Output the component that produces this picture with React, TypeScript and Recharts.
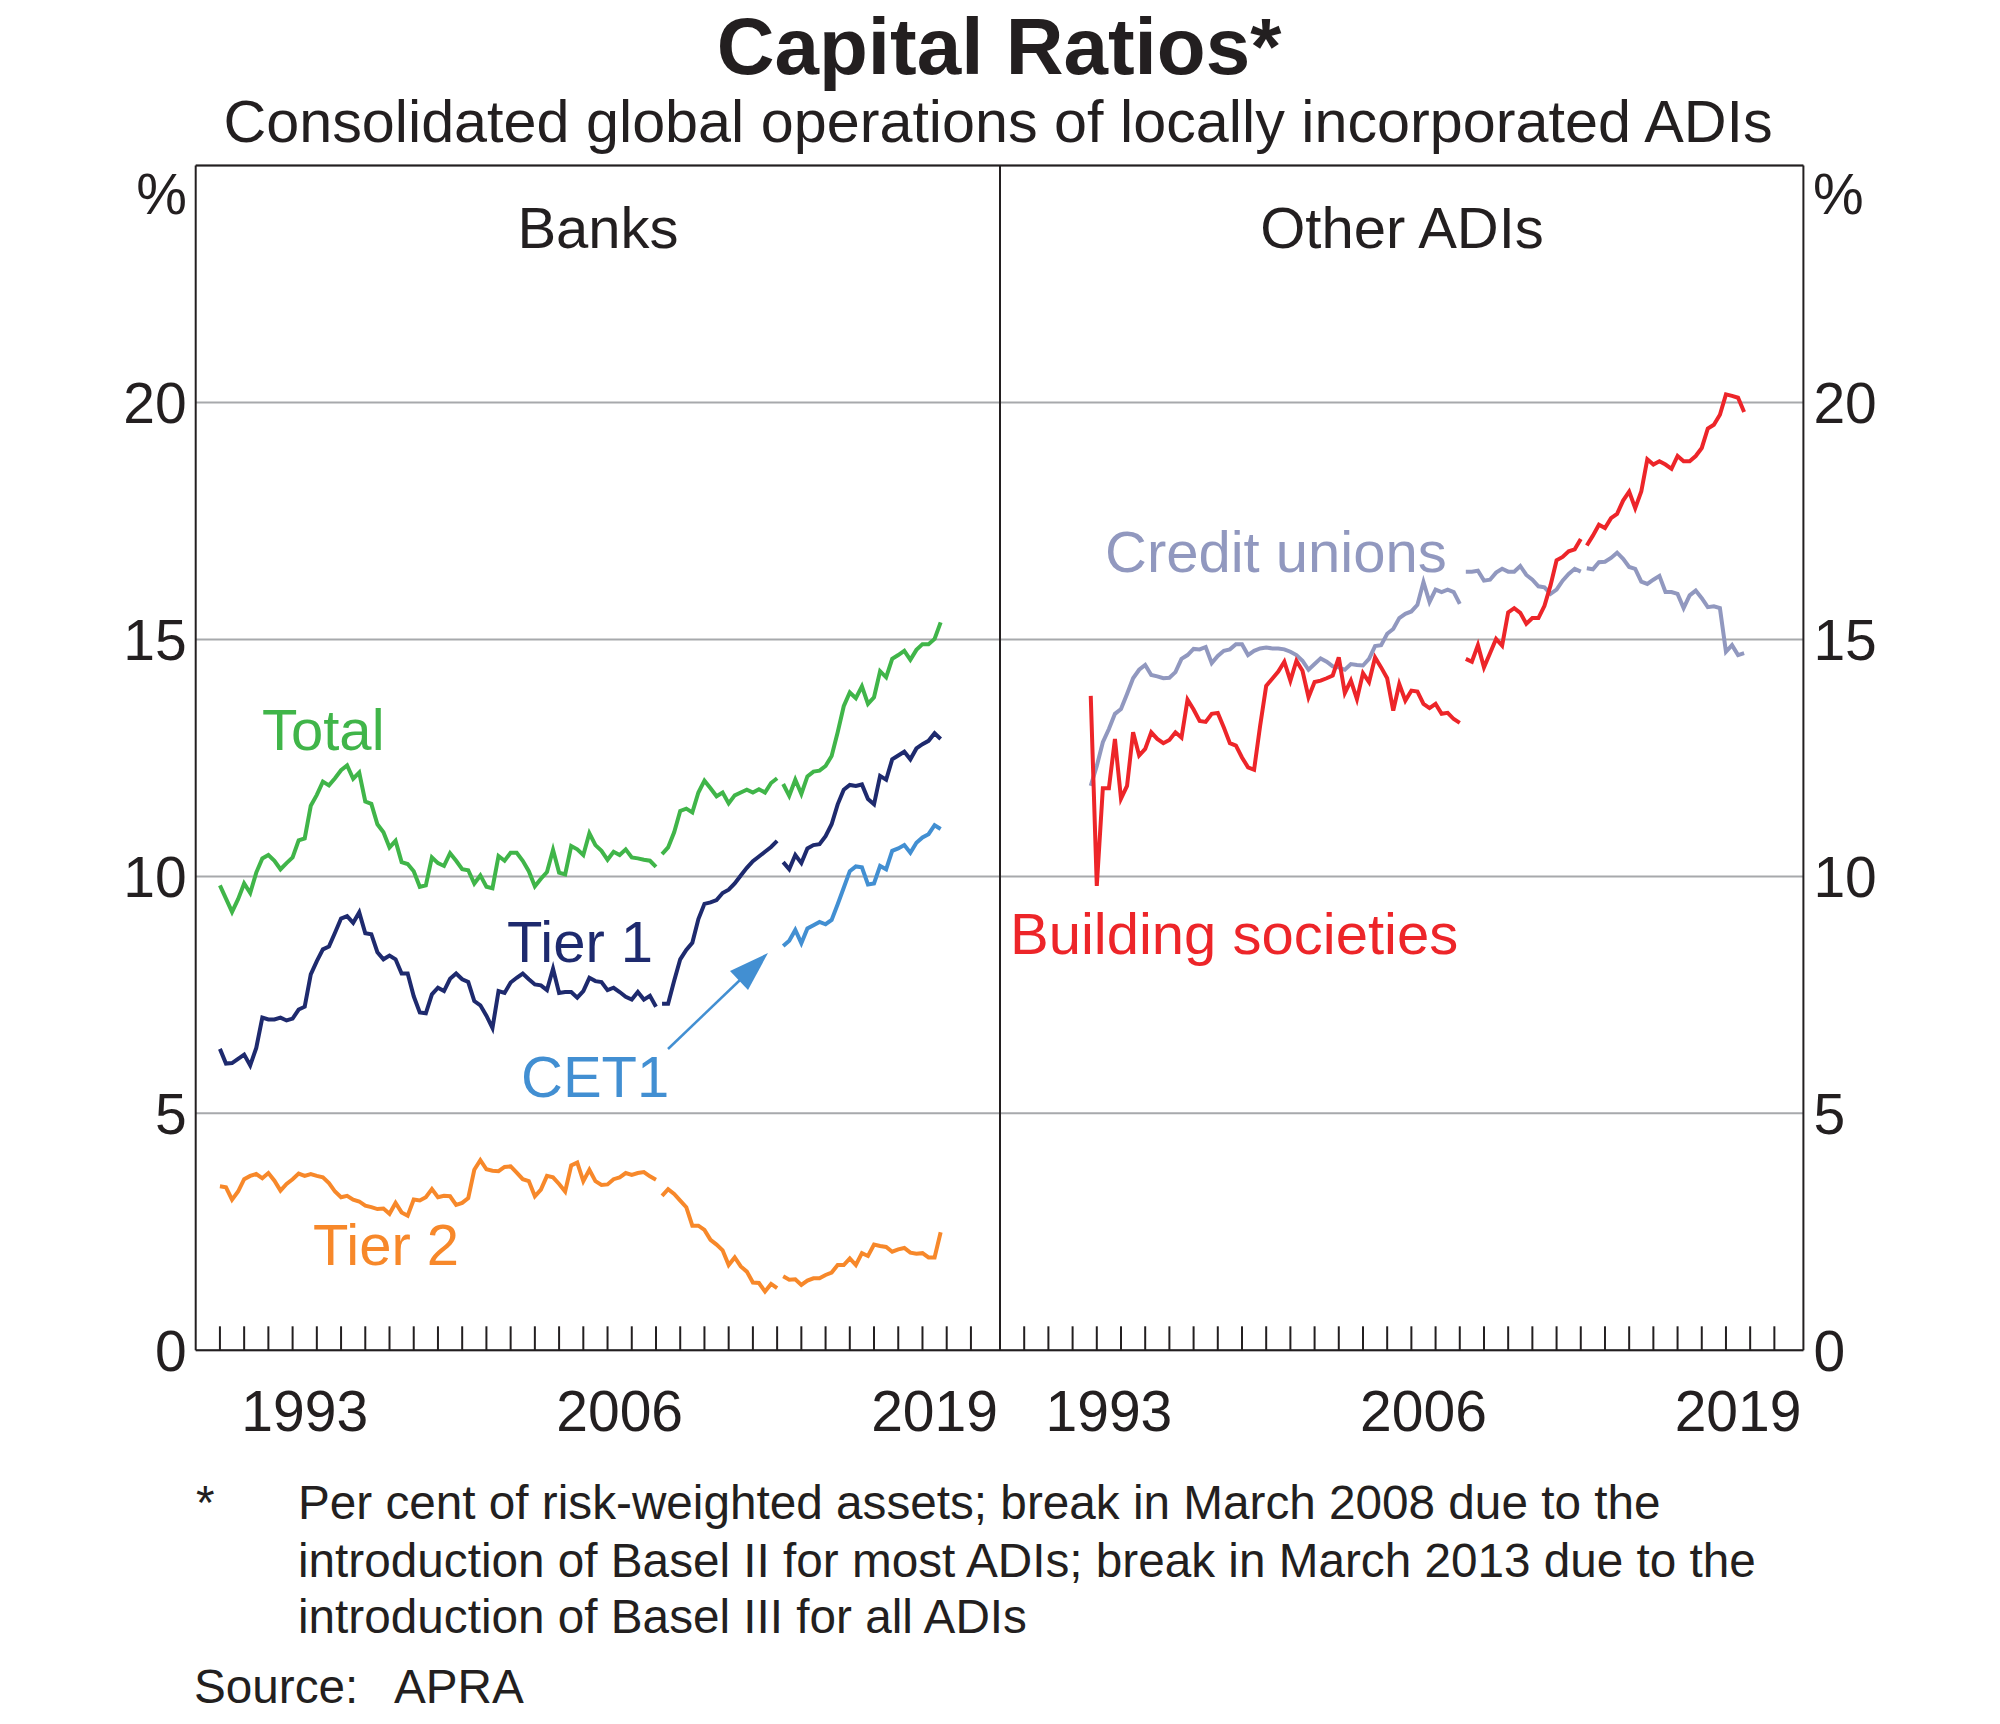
import React from "react";
import { LineChart, Line, XAxis, YAxis, CartesianGrid, ReferenceLine } from "recharts";

// Quarterly observations, plotted at quarter end: first is Dec 1989 (1990.0), last is Sep 2019.
const FIRST_QUARTER = 1990.0;
const N_QUARTERS = 120;
const BASEL2_START = 73; // Mar 2008
const BASEL3_START = 93; // Mar 2013
const OTHER_ADI_START = 11; // Sep 1992

// Banks
const TOTAL_PRE2008 = [
  9.81, 9.53, 9.25, 9.52, 9.85, 9.65, 10.08, 10.38, 10.45, 10.33,
  10.15, 10.28, 10.4, 10.76, 10.8, 11.49, 11.72, 12.0, 11.92, 12.07,
  12.24, 12.34, 12.06, 12.19, 11.58, 11.53, 11.1, 10.93, 10.61, 10.75,
  10.3, 10.26, 10.11, 9.78, 9.81, 10.4, 10.28, 10.22, 10.49, 10.33,
  10.15, 10.13, 9.85, 10.02, 9.78, 9.75, 10.43, 10.33, 10.5, 10.5,
  10.33, 10.11, 9.79, 9.95, 10.09, 10.56, 10.08, 10.04, 10.64, 10.57,
  10.45, 10.91, 10.66, 10.54, 10.35, 10.52, 10.45, 10.57, 10.4, 10.38,
  10.35, 10.33, 10.2,
];
const TOTAL_BASEL2 = [
  10.47, 10.61, 10.93, 11.38, 11.43, 11.35, 11.77, 12.02, 11.86, 11.69,
  11.77, 11.54, 11.71, 11.77, 11.83, 11.77, 11.84, 11.77, 11.97, 12.07,
];
const TOTAL_BASEL3 = [
  11.95, 11.7, 12.04, 11.74, 12.11, 12.21, 12.23, 12.33, 12.54, 13.04,
  13.59, 13.88, 13.76, 14.01, 13.64, 13.78, 14.33, 14.2, 14.59, 14.67,
  14.76, 14.57, 14.78, 14.9, 14.9, 15.01, 15.36,
];

const TIER1_PRE2008 = [
  6.36, 6.05, 6.06, 6.15, 6.24, 6.01, 6.38, 7.02, 6.98, 6.98,
  7.02, 6.96, 7.0, 7.19, 7.25, 7.93, 8.21, 8.46, 8.52, 8.81,
  9.11, 9.16, 9.02, 9.24, 8.8, 8.78, 8.4, 8.25, 8.33, 8.25,
  7.95, 7.95, 7.47, 7.13, 7.11, 7.51, 7.65, 7.58, 7.84, 7.95,
  7.83, 7.77, 7.37, 7.28, 7.06, 6.8, 7.58, 7.54, 7.76, 7.86,
  7.95, 7.83, 7.72, 7.7, 7.6, 8.05, 7.54, 7.56, 7.56, 7.44,
  7.58, 7.86, 7.79, 7.77, 7.6, 7.65, 7.56, 7.46, 7.4, 7.56,
  7.4, 7.48, 7.25,
];
const TIER1_BASEL2 = [
  7.31, 7.31, 7.8, 8.25, 8.45, 8.6, 9.1, 9.42, 9.45, 9.5,
  9.65, 9.72, 9.85, 10.02, 10.18, 10.32, 10.42, 10.52, 10.62, 10.75,
];
const TIER1_BASEL3 = [
  10.3, 10.15, 10.45, 10.28, 10.59, 10.66, 10.68, 10.85, 11.1, 11.52,
  11.83, 11.93, 11.91, 11.94, 11.63, 11.52, 12.12, 12.04, 12.47, 12.55,
  12.63, 12.47, 12.7, 12.79, 12.86, 13.02, 12.9,
];

const CET1_BASEL3 = [
  8.53, 8.64, 8.87, 8.59, 8.9, 8.97, 9.04, 8.99, 9.08, 9.41,
  9.76, 10.11, 10.21, 10.19, 9.83, 9.85, 10.22, 10.15, 10.54, 10.59,
  10.66, 10.5, 10.71, 10.82, 10.89, 11.08, 11.0,
];

const TIER2_PRE2008 = [
  3.46, 3.44, 3.18, 3.35, 3.61, 3.68, 3.72, 3.63, 3.74, 3.58,
  3.37, 3.51, 3.61, 3.73, 3.68, 3.72, 3.68, 3.65, 3.53, 3.35,
  3.23, 3.26, 3.18, 3.14, 3.05, 3.02, 2.98, 2.99, 2.88, 3.11,
  2.91, 2.84, 3.18, 3.16, 3.23, 3.4, 3.23, 3.26, 3.25, 3.07,
  3.11, 3.21, 3.81, 4.01, 3.82, 3.79, 3.78, 3.87, 3.88, 3.75,
  3.61, 3.57, 3.25, 3.39, 3.68, 3.65, 3.51, 3.35, 3.9, 3.96,
  3.57, 3.81, 3.57, 3.49, 3.5, 3.61, 3.65, 3.74, 3.7, 3.74,
  3.76, 3.67, 3.6,
];
const TIER2_BASEL2 = [
  3.26, 3.4, 3.3, 3.16, 3.02, 2.63, 2.63, 2.54, 2.33, 2.23,
  2.11, 1.8, 1.96, 1.77, 1.66, 1.43, 1.42, 1.24, 1.4, 1.31,
];
const TIER2_BASEL3 = [
  1.56, 1.49, 1.5, 1.38, 1.47, 1.52, 1.52, 1.59, 1.64, 1.8,
  1.8, 1.94, 1.8, 2.05, 1.99, 2.23, 2.2, 2.18, 2.08, 2.13,
  2.16, 2.06, 2.04, 2.05, 1.96, 1.96, 2.49,
];

// Other ADIs
const CREDIT_UNIONS_PRE2008 = [
  11.91, 12.33, 12.83, 13.11, 13.43, 13.53, 13.85, 14.18, 14.36, 14.46,
  14.25, 14.22, 14.18, 14.19, 14.31, 14.59, 14.67, 14.8, 14.79, 14.84,
  14.5, 14.65, 14.76, 14.79, 14.9, 14.9, 14.67, 14.76, 14.81, 14.83,
  14.81, 14.81, 14.79, 14.74, 14.67, 14.55, 14.36, 14.48, 14.6, 14.53,
  14.43, 14.41, 14.36, 14.48, 14.46, 14.45, 14.59, 14.86, 14.88, 15.12,
  15.22, 15.45, 15.54, 15.59, 15.73, 16.21, 15.79, 16.05, 16.0, 16.05,
  16.0, 15.75,
];
const CREDIT_UNIONS_BASEL2 = [
  16.43, 16.43, 16.45, 16.24, 16.26, 16.41, 16.49, 16.43, 16.43, 16.55,
  16.36, 16.26, 16.12, 16.1, 15.96, 16.05, 16.24, 16.38, 16.49, 16.43,
];
const CREDIT_UNIONS_BASEL3 = [
  16.5, 16.48, 16.63, 16.64, 16.72, 16.83, 16.7, 16.53, 16.49, 16.22,
  16.17, 16.26, 16.34, 16.0, 16.0, 15.96, 15.66, 15.93, 16.03, 15.87,
  15.68, 15.7, 15.66, 14.74, 14.88, 14.67, 14.71,
];

const BUILDING_SOC_PRE2008 = [
  13.81, 9.8, 11.86, 11.86, 12.9, 11.64, 11.91, 13.04, 12.55, 12.69,
  13.04, 12.9, 12.81, 12.88, 13.04, 12.93, 13.73, 13.52, 13.28, 13.26,
  13.43, 13.45, 13.14, 12.81, 12.76, 12.51, 12.3, 12.25, 13.18, 14.02,
  14.17, 14.32, 14.53, 14.13, 14.55, 14.34, 13.78, 14.1, 14.13, 14.18,
  14.24, 14.62, 13.87, 14.13, 13.74, 14.29, 14.1, 14.62, 14.41, 14.18,
  13.5, 14.06, 13.71, 13.92, 13.9, 13.64, 13.55, 13.64, 13.43, 13.45,
  13.32, 13.24,
];
const BUILDING_SOC_BASEL2 = [
  14.59, 14.53, 14.88, 14.41, 14.71, 15.01, 14.87, 15.57, 15.66, 15.56,
  15.33, 15.45, 15.45, 15.71, 16.14, 16.67, 16.74, 16.86, 16.9, 17.12,
];
const BUILDING_SOC_BASEL3 = [
  16.98, 17.19, 17.42, 17.35, 17.56, 17.65, 17.93, 18.12, 17.77, 18.12,
  18.8, 18.69, 18.76, 18.69, 18.6, 18.87, 18.76, 18.76, 18.87, 19.04,
  19.45, 19.53, 19.74, 20.17, 20.14, 20.1, 19.8,
];

const Y_TICKS = [0, 5, 10, 15, 20];
const YEAR_TICKS = Array.from({ length: 32 }, (_, k) => 1990 + k);
const YEAR_LABELS = [1993, 2006, 2019];
const X_DOMAIN: [number, number] = [1989, 2022.2];

const FONT = '"Liberation Sans", Arial, Helvetica, sans-serif';
const INK = "#231f20";
const GRID = "#a7a9ac";
const GREEN = "#40b549";
const NAVY = "#1e2a6e";
const SKY = "#428fd2";
const ORANGE = "#f7882a";
const LAVENDER = "#9198bf";
const RED = "#ed2529";

// layout (px)
const W = 2000;
const H = 1724;
const PLOT_TOP = 165.5;
const PLOT_BOTTOM = 1350.3;
const LEFT_EDGE = 195.7;
const DIVIDER = 1000;
const RIGHT_EDGE = 1803.4;
const TICK_FONT = 57;
const NOTE_FONT = 47.7;

function seg(values: number[], start: number, i: number) {
  const k = i - start;
  return k >= 0 && k < values.length ? values[k] : null;
}

const rows = Array.from({ length: N_QUARTERS }, (_, i) => ({
  t: FIRST_QUARTER + i / 4,
  totalA: seg(TOTAL_PRE2008, 0, i),
  totalB: seg(TOTAL_BASEL2, BASEL2_START, i),
  totalC: seg(TOTAL_BASEL3, BASEL3_START, i),
  tier1A: seg(TIER1_PRE2008, 0, i),
  tier1B: seg(TIER1_BASEL2, BASEL2_START, i),
  tier1C: seg(TIER1_BASEL3, BASEL3_START, i),
  cet1C: seg(CET1_BASEL3, BASEL3_START, i),
  tier2A: seg(TIER2_PRE2008, 0, i),
  tier2B: seg(TIER2_BASEL2, BASEL2_START, i),
  tier2C: seg(TIER2_BASEL3, BASEL3_START, i),
  cuA: seg(CREDIT_UNIONS_PRE2008, OTHER_ADI_START, i),
  cuB: seg(CREDIT_UNIONS_BASEL2, BASEL2_START, i),
  cuC: seg(CREDIT_UNIONS_BASEL3, BASEL3_START, i),
  bsA: seg(BUILDING_SOC_PRE2008, OTHER_ADI_START, i),
  bsB: seg(BUILDING_SOC_BASEL2, BASEL2_START, i),
  bsC: seg(BUILDING_SOC_BASEL3, BASEL3_START, i),
}));

const BANK_LINES: [string, string][] = [
  ["tier2A", ORANGE], ["tier2B", ORANGE], ["tier2C", ORANGE],
  ["cet1C", SKY],
  ["tier1A", NAVY], ["tier1B", NAVY], ["tier1C", NAVY],
  ["totalA", GREEN], ["totalB", GREEN], ["totalC", GREEN],
];
const OTHER_LINES: [string, string][] = [
  ["cuA", LAVENDER], ["cuB", LAVENDER], ["cuC", LAVENDER],
  ["bsA", RED], ["bsB", RED], ["bsC", RED],
];

// integer ticks are drawn as marks pointing up into the plot; x.5 ticks carry the year label
function YearTick(props: any) {
  const { x, y, payload } = props;
  const v = payload.value;
  if (Number.isInteger(v)) {
    return <line x1={x} x2={x} y1={y} y2={y - 24} stroke={INK} strokeWidth={2} />;
  }
  return (
    <text x={x} y={y + 81} textAnchor="middle" fontSize={TICK_FONT} fill={INK} fontFamily={FONT}>
      {Math.floor(v)}
    </text>
  );
}

function Panel({ side, lines }: { side: "left" | "right"; lines: [string, string][] }) {
  const isLeft = side === "left";
  const width = isLeft ? DIVIDER : W - DIVIDER;
  const yWidth = isLeft ? LEFT_EDGE : W - RIGHT_EDGE;
  return (
    <div style={{ position: "absolute", left: isLeft ? 0 : DIVIDER, top: 0 }}>
      <LineChart width={width} height={H} data={rows} margin={{ top: PLOT_TOP, right: 0, bottom: 0, left: 0 }}>
        <CartesianGrid vertical={false} stroke={GRID} strokeWidth={2} />
        <XAxis
          type="number"
          dataKey="t"
          domain={X_DOMAIN}
          ticks={[...YEAR_TICKS, ...YEAR_LABELS.map((y) => y + 0.5)]}
          interval={0}
          tickSize={0}
          tickMargin={0}
          tickLine={false}
          tick={<YearTick />}
          axisLine={{ stroke: INK, strokeWidth: 2 }}
          height={H - PLOT_BOTTOM}
        />
        <YAxis
          orientation={side}
          width={yWidth}
          domain={[0, 25]}
          ticks={Y_TICKS}
          interval={0}
          tickLine={false}
          tickSize={0}
          tickMargin={isLeft ? 9 : 10}
          axisLine={{ stroke: INK, strokeWidth: 2 }}
          tick={{ fontSize: TICK_FONT, fill: INK, fontFamily: FONT }}
        />
        <ReferenceLine y={25} stroke={INK} strokeWidth={2} />
        <ReferenceLine x={isLeft ? X_DOMAIN[1] : X_DOMAIN[0]} stroke={INK} strokeWidth={2} />
        {lines.map(([key, color]) => (
          <Line
            key={key}
            type="linear"
            dataKey={key}
            stroke={color}
            strokeWidth={4}
            dot={false}
            activeDot={false}
            connectNulls={false}
            isAnimationActive={false}
          />
        ))}
      </LineChart>
    </div>
  );
}

export default function App() {
  const txt = { fontFamily: FONT, fill: INK };
  return (
    <div style={{ position: "absolute", left: 0, top: 0, width: W, height: H, background: "#fff" }}>
      <Panel side="left" lines={BANK_LINES} />
      <Panel side="right" lines={OTHER_LINES} />
      <svg width={W} height={H} style={{ position: "absolute", left: 0, top: 0, pointerEvents: "none" }}>
        <text x={999} y={74} textAnchor="middle" fontSize={80} fontWeight="bold" {...txt}>
          Capital Ratios*
        </text>
        <text x={998} y={142} textAnchor="middle" fontSize={59.3} {...txt}>
          Consolidated global operations of locally incorporated ADIs
        </text>
        <text x={598} y={248} textAnchor="middle" fontSize={58} {...txt}>Banks</text>
        <text x={1402} y={248} textAnchor="middle" fontSize={58} {...txt}>Other ADIs</text>
        <text x={187} y={214} textAnchor="end" fontSize={TICK_FONT} {...txt}>%</text>
        <text x={1813} y={214} textAnchor="start" fontSize={TICK_FONT} {...txt}>%</text>

        <text x={262} y={750} fontSize={58} fontFamily={FONT} fill={GREEN}>Total</text>
        <text x={507} y={962} fontSize={58} fontFamily={FONT} fill={NAVY}>Tier 1</text>
        <text x={521} y={1097} fontSize={58} fontFamily={FONT} fill={SKY}>CET1</text>
        <text x={313} y={1265} fontSize={58} fontFamily={FONT} fill={ORANGE}>Tier 2</text>
        <text x={1105} y={572} fontSize={58} fontFamily={FONT} fill={LAVENDER}>Credit unions</text>
        <text x={1010} y={954} fontSize={58} fontFamily={FONT} fill={RED}>Building societies</text>

        <line x1={668} y1={1049} x2={740} y2={980} stroke={SKY} strokeWidth={2.5} />
        <polygon points="768,953 748,990 730,971" fill={SKY} />

        <text x={196} y={1519} fontSize={NOTE_FONT} {...txt}>*</text>
        <text x={298} y={1519} fontSize={NOTE_FONT} {...txt}>
          Per cent of risk-weighted assets; break in March 2008 due to the
        </text>
        <text x={298} y={1577} fontSize={NOTE_FONT} {...txt}>
          introduction of Basel II for most ADIs; break in March 2013 due to the
        </text>
        <text x={298} y={1633} fontSize={NOTE_FONT} {...txt}>
          introduction of Basel III for all ADIs
        </text>
        <text x={194} y={1703} fontSize={NOTE_FONT} {...txt}>Source:</text>
        <text x={394} y={1703} fontSize={NOTE_FONT} {...txt}>APRA</text>
      </svg>
    </div>
  );
}
